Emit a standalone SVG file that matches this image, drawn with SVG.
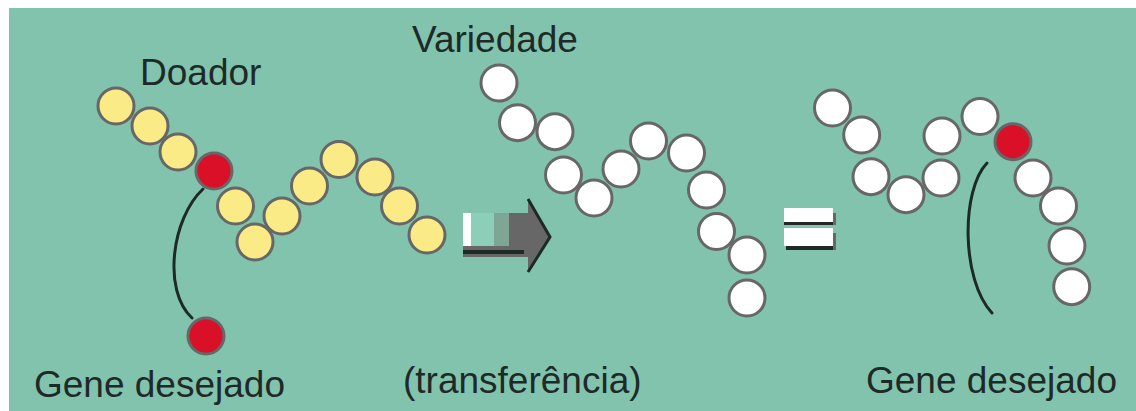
<svg xmlns="http://www.w3.org/2000/svg" width="1136" height="411" viewBox="0 0 1136 411">
<style>
.b{stroke:#676767;stroke-width:3}
.y{fill:#FBEB87}
.w{fill:#FFFFFF}
.r{fill:#D91028}
.t{font-family:"Liberation Sans",Arial,sans-serif;font-size:37px;fill:#1E2A28}
.c{fill:none;stroke:#1E2A28;stroke-width:3;stroke-linecap:round}
</style>
<rect x="0" y="0" width="1136" height="411" fill="#FFFFFF"/>
<rect x="9" y="8" width="1127" height="403" fill="#82C3AE"/>
<g id="connectors">
<path class="c" d="M203,189 C172,218 162,290 192,318"/>
<path class="c" d="M987,163 C961,190 961,280 992,313"/>
</g>
<g id="donor">
<circle class="b y" cx="116" cy="106" r="18"/>
<circle class="b y" cx="150" cy="126" r="18"/>
<circle class="b y" cx="178" cy="152" r="18"/>
<circle class="b r" cx="214" cy="171" r="18"/>
<circle class="b y" cx="235.5" cy="206" r="18"/>
<circle class="b y" cx="255" cy="242" r="18"/>
<circle class="b y" cx="282" cy="216" r="18"/>
<circle class="b y" cx="309.5" cy="186" r="18"/>
<circle class="b y" cx="339" cy="159.5" r="18"/>
<circle class="b y" cx="375" cy="177" r="18"/>
<circle class="b y" cx="399.5" cy="206" r="18"/>
<circle class="b y" cx="427" cy="235" r="18"/>
</g>
<g id="gene-left">
<circle class="b r" cx="206" cy="336" r="18"/>
</g>
<g id="variety">
<circle class="b w" cx="499" cy="83" r="18"/>
<circle class="b w" cx="517.5" cy="122.7" r="18"/>
<circle class="b w" cx="555" cy="131.7" r="18"/>
<circle class="b w" cx="563.5" cy="175" r="18"/>
<circle class="b w" cx="594" cy="198" r="18"/>
<circle class="b w" cx="621" cy="169" r="18"/>
<circle class="b w" cx="648.5" cy="141" r="18"/>
<circle class="b w" cx="686.5" cy="153" r="18"/>
<circle class="b w" cx="706.5" cy="190" r="18"/>
<circle class="b w" cx="716.5" cy="231.5" r="18"/>
<circle class="b w" cx="747" cy="255" r="18"/>
<circle class="b w" cx="747" cy="298" r="18"/>
</g>
<g id="arrow">
<polygon points="463,213 528,213 528,199 551,237 528,272 528,257 463,257" fill="#676767"/>
<rect x="463" y="213" width="8" height="33" fill="#FFFFFF"/>
<rect x="471" y="213" width="23" height="33" fill="#8CCFB8"/>
<rect x="494" y="213" width="15" height="33" fill="#7FA595"/>
<rect x="463" y="250" width="61" height="4" fill="#1E2A28"/>
<polyline points="528,199 550,237 528,272" fill="none" stroke="#1E2A28" stroke-width="3"/>
</g>
<g id="equals">
<rect x="784" y="208" width="49" height="15" fill="#FFFFFF"/>
<rect x="784" y="222" width="49" height="3" fill="#1E2A28"/>
<rect x="833" y="213" width="3" height="12" fill="#676767"/>
<rect x="784" y="228" width="49" height="18" fill="#FFFFFF"/>
<rect x="786" y="246" width="47" height="4" fill="#1E2A28"/>
<rect x="833" y="233" width="3" height="17" fill="#676767"/>
</g>
<g id="result">
<circle class="b w" cx="832.5" cy="108" r="18"/>
<circle class="b w" cx="861.7" cy="135" r="18"/>
<circle class="b w" cx="871" cy="176.7" r="18"/>
<circle class="b w" cx="906" cy="194.7" r="18"/>
<circle class="b w" cx="941" cy="178" r="18"/>
<circle class="b w" cx="942" cy="136" r="18"/>
<circle class="b w" cx="980" cy="116.5" r="18"/>
<circle class="b r" cx="1013" cy="141.7" r="18"/>
<circle class="b w" cx="1033" cy="178" r="18"/>
<circle class="b w" cx="1058.5" cy="206" r="18"/>
<circle class="b w" cx="1067" cy="246" r="18"/>
<circle class="b w" cx="1071.7" cy="286.7" r="18"/>
</g>
<g id="labels">
<text class="t" x="140" y="85">Doador</text>
<text class="t" x="412" y="52">Variedade</text>
<text class="t" x="34" y="397">Gene desejado</text>
<text class="t" x="403" y="393">(transferência)</text>
<text class="t" x="866" y="393">Gene desejado</text>
</g>
</svg>
